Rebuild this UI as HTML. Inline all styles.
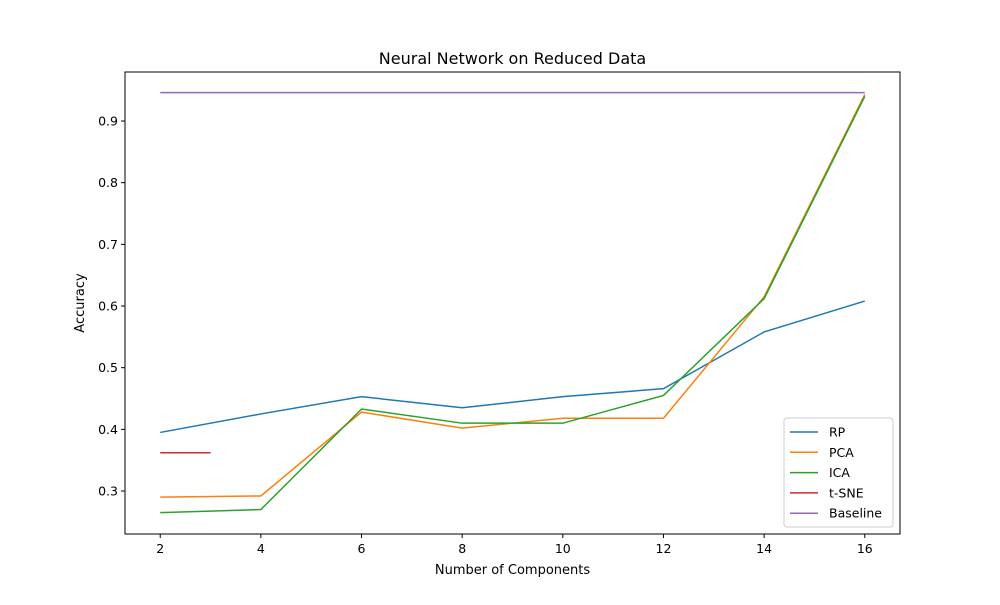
<!DOCTYPE html>
<html><head><meta charset="utf-8"><style>
body{margin:0;background:#fff;}
svg text{font-family:"DejaVu Sans","Liberation Sans",sans-serif;fill:#000;}
</style></head><body>
<svg id="chart" width="1000" height="600" xmlns="http://www.w3.org/2000/svg">
<rect width="1000" height="600" fill="#fff"/>
<text x="512.5" y="64" font-size="16" text-anchor="middle">Neural Network on Reduced Data</text>
<g id="plot"></g>
<rect x="125" y="72" width="775" height="462" fill="none" stroke="#000" stroke-width="1"/>
<text x="512.5" y="574" font-size="13" text-anchor="middle">Number of Components</text>
<text x="84" y="303" font-size="13" text-anchor="middle" transform="rotate(-90 84 303)">Accuracy</text>
</svg>
<script>
const xs=[2,4,6,8,10,12,14,16];
const rp=[0.395,0.425,0.453,0.435,0.453,0.466,0.558,0.608];
const pca=[0.290,0.292,0.428,0.402,0.418,0.418,0.615,0.943];
const ica=[0.265,0.270,0.433,0.410,0.410,0.455,0.612,0.940];
const tsneX=[2,3];
const tsne=[0.362,0.362];
const baseX=[2,16];
const baseline=[0.946,0.946];
const xTicks=[2,4,6,8,10,12,14,16];
const yTicks=[0.3,0.4,0.5,0.6,0.7,0.8,0.9];
const ns="http://www.w3.org/2000/svg";
const L=125,R=900,T=72,B=534,x0=1.3,x1=16.7,y0=0.2303,y1=0.9795;
function sx(v){return L+(v-x0)/(x1-x0)*(R-L);}
function sy(v){return B-(v-y0)/(y1-y0)*(B-T);}
const g=document.getElementById('plot');
function mk(t,a){const e=document.createElementNS(ns,t);for(const k in a)e.setAttribute(k,a[k]);g.appendChild(e);return e;}
xTicks.forEach(v=>{
 const l=mk('line',{x1:sx(v),x2:sx(v),y1:B,y2:B+4,stroke:'#000'});
 
 
 const t=mk('text',{x:sx(v),y:B+19,'font-size':12.5,'text-anchor':'middle'});t.textContent=v;
 
 
});
yTicks.forEach(v=>{
 const l=mk('line',{x1:L-4,x2:L,y1:sy(v),y2:sy(v),stroke:'#000'});
 
 
 const t=mk('text',{x:L-7,y:sy(v)+4.5,'font-size':12.5,'text-anchor':'end'});t.textContent=v.toFixed(1);
 
 
});
const series=[['RP',xs,rp,'#1f77b4'],['PCA',xs,pca,'#ff7f0e'],['ICA',xs,ica,'#2ca02c'],['t-SNE',tsneX,tsne,'#d62728'],['Baseline',baseX,baseline,'#9467bd']];
series.forEach(s=>{
 const p=mk('polyline',{points:s[1].map((x,i)=>sx(x)+','+sy(s[2][i])).join(' '),fill:'none',stroke:s[3],'stroke-width':1.5});
 
 
});
const lg=mk('rect',{x:784,y:418,width:109,height:109,rx:3,fill:'#fff','fill-opacity':0.8,stroke:'#ccc'});


series.forEach((s,i)=>{
 const y=432+i*20.3;
 const l=mk('line',{x1:790,x2:818,y1:y,y2:y,stroke:s[3],'stroke-width':1.5});
 
 
 const t=mk('text',{x:829,y:y+4.5,'font-size':12.5});t.textContent=s[0];
 
 
});
</script>
</body></html>
